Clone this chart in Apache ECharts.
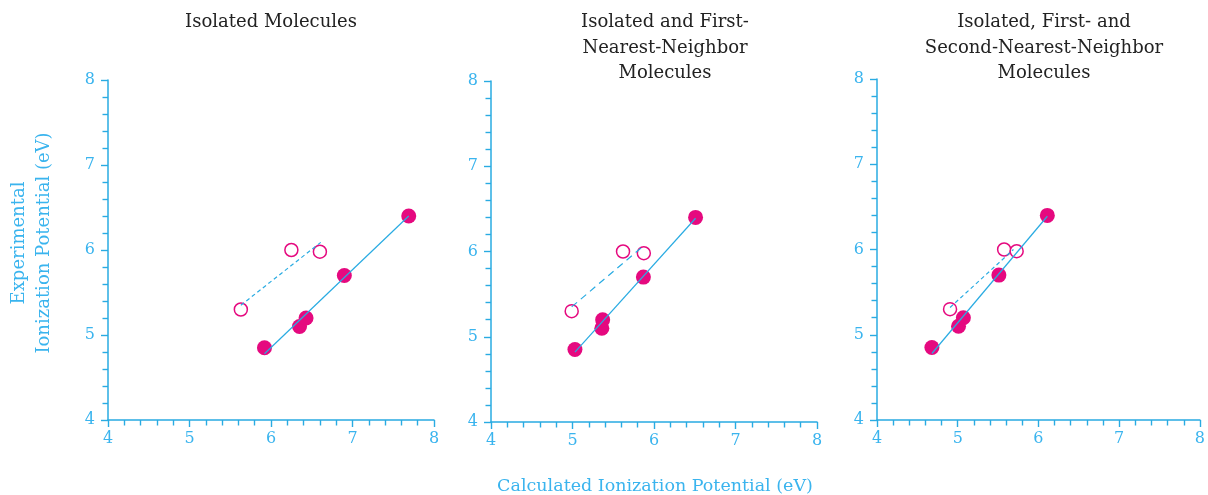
<!DOCTYPE html>
<html>
<head>
<meta charset="utf-8">
<script src="https://cdn.jsdelivr.net/npm/echarts@6/dist/echarts.min.js"></script>
<style>
html,body{margin:0;padding:0;background:#fff;}
#chart{width:1208px;height:495px;}
</style>
</head>
<body>
<div id="chart"></div>
<script>
// ---- Data ----
const panelTitles = [
  "Isolated Molecules",
  "Isolated and First-\nNearest-Neighbor\nMolecules",
  "Isolated, First- and\nSecond-Nearest-Neighbor\nMolecules"
];
const xAxisTitle = "Calculated Ionization Potential (eV)";
const yAxisTitle = "Experimental\nIonization Potential (eV)";
const axisTicks = [4, 5, 6, 7, 8];

const filledY = [4.85, 5.10, 5.20, 5.70, 6.40];
const openY = [5.30, 6.00, 5.98];

const p1FilledX = [5.92, 6.35, 6.43, 6.90, 7.69];
const p1OpenX = [5.63, 6.25, 6.60];
const p1SolidX = [5.92, 7.69];
const p1SolidY = [4.78, 6.40];
const p1DashX = [5.63, 6.61];
const p1DashY = [5.35, 6.09];

const p2FilledX = [5.03, 5.36, 5.37, 5.87, 6.51];
const p2OpenX = [4.99, 5.62, 5.875];
const p2SolidX = [5.03, 6.51];
const p2SolidY = [4.82, 6.39];
const p2DashX = [4.99, 5.875];
const p2DashY = [5.35, 6.07];

const p3FilledX = [4.68, 5.01, 5.07, 5.51, 6.11];
const p3OpenX = [4.905, 5.575, 5.73];
const p3SolidX = [4.68, 6.11];
const p3SolidY = [4.78, 6.39];
const p3DashX = [4.905, 5.69];
const p3DashY = [5.32, 6.00];

// ---- Styles ----
const CYAN = '#29abe2';
const LABEL = '#3ab4ee';
const MAGENTA = '#e5097f';
const SERIF = '"DejaVu Serif", "Liberation Serif", serif';

const zip = (xs, ys) => xs.map((x, i) => [x, ys[i]]);

const panels = [
  {fx: p1FilledX, ox: p1OpenX, sx: p1SolidX, sy: p1SolidY, dx: p1DashX, dy: p1DashY, dash: [4, 3]},
  {fx: p2FilledX, ox: p2OpenX, sx: p2SolidX, sy: p2SolidY, dx: p2DashX, dy: p2DashY, dash: [7, 5]},
  {fx: p3FilledX, ox: p3OpenX, sx: p3SolidX, sy: p3SolidY, dx: p3DashX, dy: p3DashY, dash: [4, 3]}
];

const grids = [
  {left: 108, top: 80, width: 326, height: 340},
  {left: 491, top: 81, width: 326, height: 341},
  {left: 877, top: 79, width: 326, height: 341}
];

const axisCommon = {
  type: 'value', min: axisTicks[0], max: axisTicks[axisTicks.length - 1], interval: 1,
  axisLine: {show: true, onZero: false, lineStyle: {color: CYAN, width: 1.5}},
  axisTick: {show: true, length: 7, lineStyle: {color: CYAN, width: 1.4}},
  minorTick: {show: true, splitNumber: 5, length: 5.5, lineStyle: {color: CYAN, width: 1.4}},
  splitLine: {show: false},
  axisLabel: {color: LABEL, fontFamily: SERIF, fontSize: 16}
};

const xAxes = grids.map((g, i) => Object.assign({}, axisCommon, {gridIndex: i,
  axisLabel: Object.assign({}, axisCommon.axisLabel, {margin: 11})}));
const yAxes = grids.map((g, i) => Object.assign({}, axisCommon, {gridIndex: i,
  axisLabel: Object.assign({}, axisCommon.axisLabel, {margin: 13})}));

const series = [];
panels.forEach((p, i) => {
  series.push({type: 'scatter', xAxisIndex: i, yAxisIndex: i, symbol: 'circle', symbolSize: 15,
    itemStyle: {color: MAGENTA, opacity: 1}, data: zip(p.fx, filledY), z: 2});
  series.push({type: 'scatter', xAxisIndex: i, yAxisIndex: i, symbol: 'circle', symbolSize: 13,
    itemStyle: {color: '#fff', borderColor: MAGENTA, borderWidth: 1.5, opacity: 1}, data: zip(p.ox, openY), z: 2});
  series.push({type: 'line', xAxisIndex: i, yAxisIndex: i, showSymbol: false, symbol: 'none',
    lineStyle: {color: CYAN, width: 1.2}, data: zip(p.sx, p.sy), z: 3});
  series.push({type: 'line', xAxisIndex: i, yAxisIndex: i, showSymbol: false, symbol: 'none',
    lineStyle: {color: CYAN, width: 1.2, type: p.dash}, data: zip(p.dx, p.dy), z: 3});
});

const titleCenters = [271, 665, 1044];
const graphics = panelTitles.map((t, i) => ({
  type: 'text', x: titleCenters[i], y: 10,
  style: {text: t, fill: '#222', font: '18px ' + SERIF, textAlign: 'center', textVerticalAlign: 'top', lineHeight: 25.5}
}));
graphics.push({
  type: 'text', x: 655, y: 486,
  style: {text: xAxisTitle, fill: LABEL, font: '17.5px ' + SERIF, textAlign: 'center', textVerticalAlign: 'middle'}
});
graphics.push({
  type: 'text', x: 32, y: 243, rotation: Math.PI / 2,
  style: {text: yAxisTitle, fill: LABEL, font: '18px ' + SERIF, textAlign: 'center', textVerticalAlign: 'middle', lineHeight: 25}
});

const chart = echarts.init(document.getElementById('chart'), null, {renderer: 'canvas'});
chart.setOption({
  animation: false,
  backgroundColor: '#fff',
  grid: grids,
  xAxis: xAxes,
  yAxis: yAxes,
  series: series,
  graphic: graphics
});
</script>
</body>
</html>
